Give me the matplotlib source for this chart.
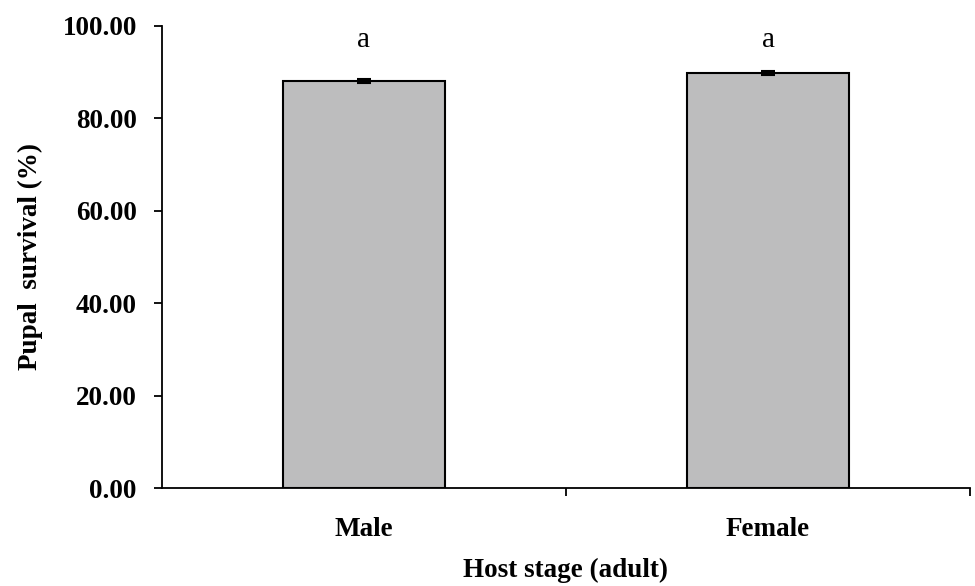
import matplotlib
matplotlib.use("Agg")
import matplotlib.pyplot as plt
from matplotlib.ticker import FixedLocator, FuncFormatter

categories = ["Male", "Female"]
values = [88.1, 89.8]
errors = [0.4, 0.4]
letters = ["a", "a"]
yticks = [0, 20, 40, 60, 80, 100]

plt.rcParams['font.family'] = ['Liberation Serif', 'DejaVu Serif']

fig = plt.figure(figsize=(9.75, 5.86), dpi=100)
ax = fig.add_axes([0.166, 0.167, 0.829, 0.789])

x = list(range(len(categories)))
ax.bar(x, values, width=0.4, color="#bdbdbe", edgecolor="black", linewidth=1.5,
       yerr=errors, capsize=5, error_kw=dict(ecolor="black", elinewidth=1.5, capthick=1.5), zorder=2)
for xi, v, l in zip(x, values, letters):
    ax.text(xi, 97, l, ha="center", va="center", fontsize=21)

ax.set_xlim(-0.5, 1.5)
ax.set_ylim(0, 100)
ax.set_yticks(yticks)
ax.yaxis.set_major_formatter(FuncFormatter(lambda v, p: f"{v:.2f}"))
ax.set_xticks(x)
ax.set_xticklabels(categories, fontsize=19.5, fontweight="bold")
ax.xaxis.set_minor_locator(FixedLocator([0.5, 1.5]))
ax.tick_params(axis="x", which="major", length=0, pad=21)
ax.tick_params(axis="x", which="minor", length=6, width=1.3, direction="out")
ax.tick_params(axis="y", length=6, width=1.3, direction="out", labelsize=19.5, pad=12)
for lbl in ax.get_yticklabels():
    lbl.set_fontweight("bold")
for s in ["top", "right"]:
    ax.spines[s].set_visible(False)
for s in ["left", "bottom"]:
    ax.spines[s].set_linewidth(1.3)
ax.set_ylabel("Pupal  survival (%)", fontsize=19.5, fontweight="bold", labelpad=14)
ax.set_xlabel("Host stage (adult)", fontsize=19.5, fontweight="bold", labelpad=11)

fig.savefig("out.png", dpi=100)
